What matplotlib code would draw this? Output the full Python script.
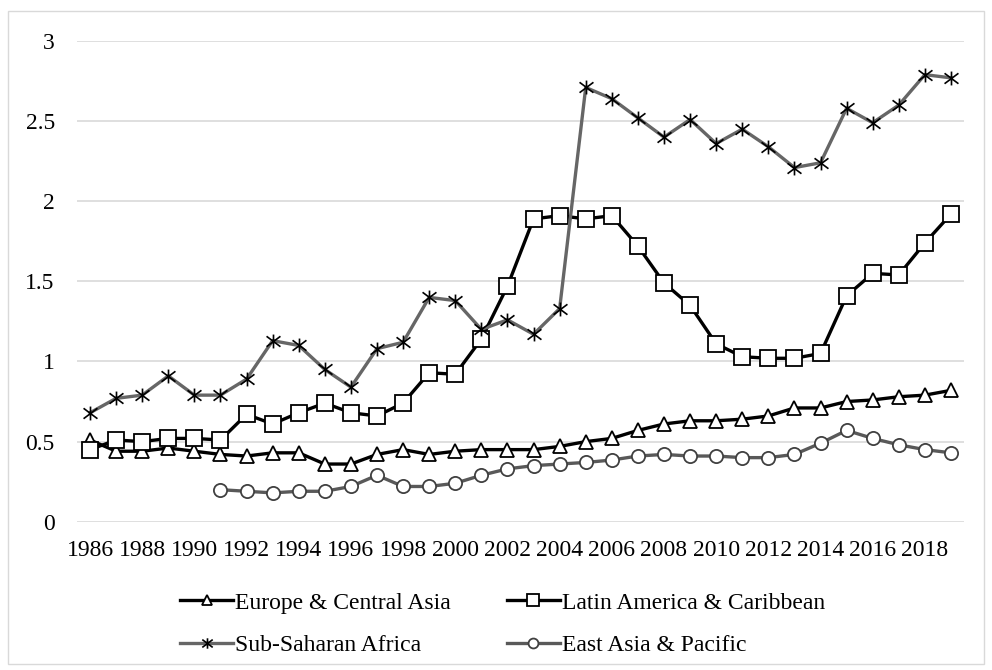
import matplotlib.pyplot as plt
import numpy as np
from matplotlib.path import Path
from matplotlib.patches import Rectangle

# Data
years = list(range(1986, 2020))

europe = [0.51, 0.44, 0.44, 0.46, 0.44, 0.42, 0.41, 0.43, 0.43, 0.36, 0.36, 0.42,
          0.45, 0.42, 0.44, 0.45, 0.45, 0.45, 0.47, 0.50, 0.52, 0.57, 0.61, 0.63,
          0.63, 0.64, 0.66, 0.71, 0.71, 0.75, 0.76, 0.78, 0.79, 0.82]

latin = [0.45, 0.51, 0.50, 0.52, 0.52, 0.51, 0.67, 0.61, 0.68, 0.74, 0.68, 0.66,
         0.74, 0.93, 0.92, 1.14, 1.47, 1.89, 1.91, 1.89, 1.91, 1.72, 1.49, 1.35,
         1.11, 1.03, 1.02, 1.02, 1.05, 1.41, 1.55, 1.54, 1.74, 1.92]

ssa = [0.68, 0.77, 0.79, 0.91, 0.79, 0.79, 0.89, 1.13, 1.10, 0.95, 0.84, 1.08,
       1.12, 1.40, 1.38, 1.20, 1.26, 1.17, 1.33, 2.71, 2.64, 2.52, 2.40, 2.51,
       2.36, 2.45, 2.34, 2.21, 2.24, 2.58, 2.49, 2.60, 2.79, 2.77]

# East Asia & Pacific starts in 1991
eap_years = list(range(1991, 2020))
eap = [0.20, 0.19, 0.18, 0.19, 0.19, 0.22, 0.29, 0.22, 0.22, 0.24, 0.29, 0.33,
       0.35, 0.36, 0.37, 0.385, 0.41, 0.42, 0.41, 0.41, 0.40, 0.40, 0.42, 0.49,
       0.57, 0.52, 0.48, 0.45, 0.43]

xticks = list(range(1986, 2019, 2))
yticks = [0, 0.5, 1, 1.5, 2, 2.5, 3]

# Excel style star marker: X with a vertical bar
star = Path([(-1, -0.75), (1, 0.75), (-1, 0.75), (1, -0.75), (0, -1), (0, 1)],
            [Path.MOVETO, Path.LINETO, Path.MOVETO, Path.LINETO, Path.MOVETO, Path.LINETO])

plt.rcParams['font.family'] = ['Liberation Serif', 'DejaVu Serif']

fig = plt.figure(figsize=(9.92, 6.70), dpi=100)
fig.patches.append(Rectangle((8 / 992, 6 / 670), 976 / 992, 653 / 670, transform=fig.transFigure,
                             fill=False, edgecolor='#d9d9d9', linewidth=1))
ax = fig.add_axes([0.0776, 0.2213, 0.8942, 0.7175])

gray = '#666666'
l_eu, = ax.plot(years, europe, color='black', lw=2.4, marker='^', ms=10, mfc='white',
                mec='black', mew=1.3, label='Europe & Central Asia', zorder=3)
l_la, = ax.plot(years, latin, color='black', lw=2.4, marker='s', ms=11, mfc='white',
                mec='black', mew=1.3, label='Latin America & Caribbean', zorder=3)
l_ss, = ax.plot(years, ssa, color=gray, lw=2.4, marker=star, ms=10, mfc='none',
                mec='black', mew=1.2, label='Sub-Saharan Africa', zorder=3)
l_ea, = ax.plot(eap_years, eap, color='#595959', lw=2.4, marker='o', ms=9.5, mfc='white',
                mec='#404040', mew=1.3, label='East Asia & Pacific', zorder=3)

ax.set_xlim(1985.5, 2019.5)
ax.set_ylim(0, 3)
ax.set_xticks(xticks)
ax.set_xticklabels([str(y) for y in xticks])
ax.set_yticks(yticks)
ax.set_yticklabels(['0', '0.5', '1', '1.5', '2', '2.5', '3'])
ax.tick_params(axis='both', length=0, labelsize=17)
ax.tick_params(axis='y', pad=16)
ax.tick_params(axis='x', pad=13)
ax.grid(axis='y', color='#d9d9d9', lw=1.2)
ax.set_axisbelow(True)
for s in ax.spines.values():
    s.set_visible(False)

# row-major legend order like the original
fig.legend([l_eu, l_ss, l_la, l_ea],
           [l.get_label() for l in (l_eu, l_ss, l_la, l_ea)],
           loc='upper left', bbox_to_anchor=(180 / 992, 1 - 592 / 670), ncol=2,
           frameon=False, fontsize=17, handlelength=2.25, handletextpad=0.1,
           columnspacing=2.35, labelspacing=0.9, borderaxespad=0, borderpad=0,
           markerscale=0.75)

fig.savefig('out.png', dpi=100)
